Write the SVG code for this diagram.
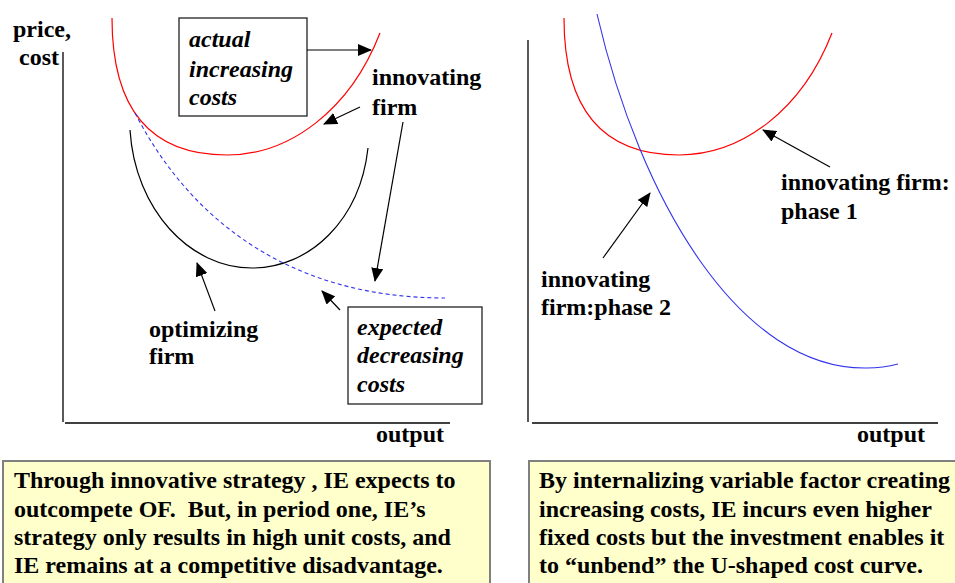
<svg xmlns="http://www.w3.org/2000/svg" width="955" height="583" viewBox="0 0 955 583" font-family="Liberation Serif, Times New Roman, serif">
<style>
text{font-family:'Liberation Serif','Times New Roman',Tinos,'DejaVu Serif',serif;font-weight:700;font-size:24px;fill:#000}
.i{font-style:italic}
.b{font-size:24px}
.ax{stroke:#000;stroke-width:1.3;fill:none}
.lbl{fill:#fff;stroke:#222;stroke-width:1.3}
.note{fill:#ffffcc;stroke:#808080;stroke-width:2}
.red{stroke:#ff0000;stroke-width:1.2;fill:none}
.blk{stroke:#000;stroke-width:1.2;fill:none}
.blue{stroke:#3333ee;stroke-width:1.1;fill:none}
.dash{stroke-dasharray:4 3}
.arr{stroke:#000;stroke-width:1.2;fill:none;marker-end:url(#ah)}
</style>
<defs>
<marker id="ah" markerUnits="userSpaceOnUse" markerWidth="14" markerHeight="12" viewBox="0 0 14 12" refX="13" refY="6" orient="auto">
<path d="M0,0 L14,6 L0,12 z" fill="#000"/>
</marker>
</defs>
<rect width="955" height="583" fill="#fff"/>

<g id="left-axes">
<line class="ax" x1="63" y1="52" x2="63" y2="422"/>
<line class="ax" x1="65" y1="423" x2="450" y2="423"/>
<text x="13" y="37">price,</text>
<text x="19" y="65">cost</text>
<text x="376" y="442">output</text>
</g>

<g id="left-curves">
<path id="innovating-curve" class="red" d="M112,18 C112,120 160,155 227,155 C290,155 350,110 380,33"/>
<path id="optimizing-curve" class="blk" d="M130,130 C135,210 190,268 252,268 C310,268 360,220 368,148"/>
<path id="expected-curve" class="blue dash" d="M135,113 C190,220 290,298 445,298"/>
</g>

<g id="actual-box">
<rect class="lbl" x="179" y="18" width="128" height="98"/>
<text class="i" x="189" y="47">actual</text>
<text class="i" x="189" y="77">increasing</text>
<text class="i" x="189" y="105">costs</text>
</g>

<g id="innovating-label">
<text x="372" y="85">innovating</text>
<text x="372" y="115">firm</text>
</g>

<g id="optimizing-label">
<text x="149" y="337">optimizing</text>
<text x="149" y="364">firm</text>
</g>

<g id="expected-box">
<rect class="lbl" x="348" y="307" width="134" height="97"/>
<text class="i" x="357" y="335">expected</text>
<text class="i" x="357" y="363">decreasing</text>
<text class="i" x="357" y="392">costs</text>
</g>

<g id="right-axes">
<line class="ax" x1="528" y1="40" x2="528" y2="422"/>
<line class="ax" x1="532" y1="423" x2="938" y2="423"/>
<text x="857" y="442">output</text>
</g>

<g id="right-curves">
<path id="phase1-curve" class="red" d="M564,18 C564,120 612,155 679,155 C742,155 802,110 832,33"/>
<path id="phase2-curve" class="blue" d="M597,14 C640,200 740,370 867,368 Q883,368 898,364"/>
</g>

<g id="phase1-label">
<text x="781" y="190">innovating firm:</text>
<text x="781" y="219">phase 1</text>
</g>

<g id="phase2-label">
<text x="541" y="287">innovating</text>
<text x="541" y="315">firm:phase 2</text>
</g>

<g id="connectors">
<line class="arr" x1="307" y1="50" x2="371" y2="50"/>
<line class="arr" x1="360" y1="107" x2="324" y2="124"/>
<line class="arr" x1="403" y1="122" x2="375" y2="281"/>
<line class="arr" x1="215" y1="311" x2="197" y2="263"/>
<line class="arr" x1="340" y1="310" x2="322" y2="291"/>
<line class="arr" x1="830" y1="167" x2="763" y2="130"/>
<line class="arr" x1="603" y1="258" x2="650" y2="193"/>
</g>

<g id="left-note">
<rect class="note" x="3" y="461" width="487" height="130"/>
<text class="b" x="14" y="488">Through innovative strategy , IE expects to</text>
<text class="b" x="14" y="517" xml:space="preserve">outcompete OF.  But, in period one, IE’s</text>
<text class="b" x="14" y="545">strategy only results in high unit costs, and</text>
<text class="b" x="14" y="573">IE remains at a competitive disadvantage.</text>
</g>

<g id="right-note">
<rect class="note" x="529" y="461" width="440" height="130"/>
<text class="b" x="539" y="488">By internalizing variable factor creating</text>
<text class="b" x="539" y="517">increasing costs, IE incurs even higher</text>
<text class="b" x="539" y="545">fixed costs but the investment enables it</text>
<text class="b" x="539" y="573">to “unbend” the U-shaped cost curve.</text>
</g>
</svg>
